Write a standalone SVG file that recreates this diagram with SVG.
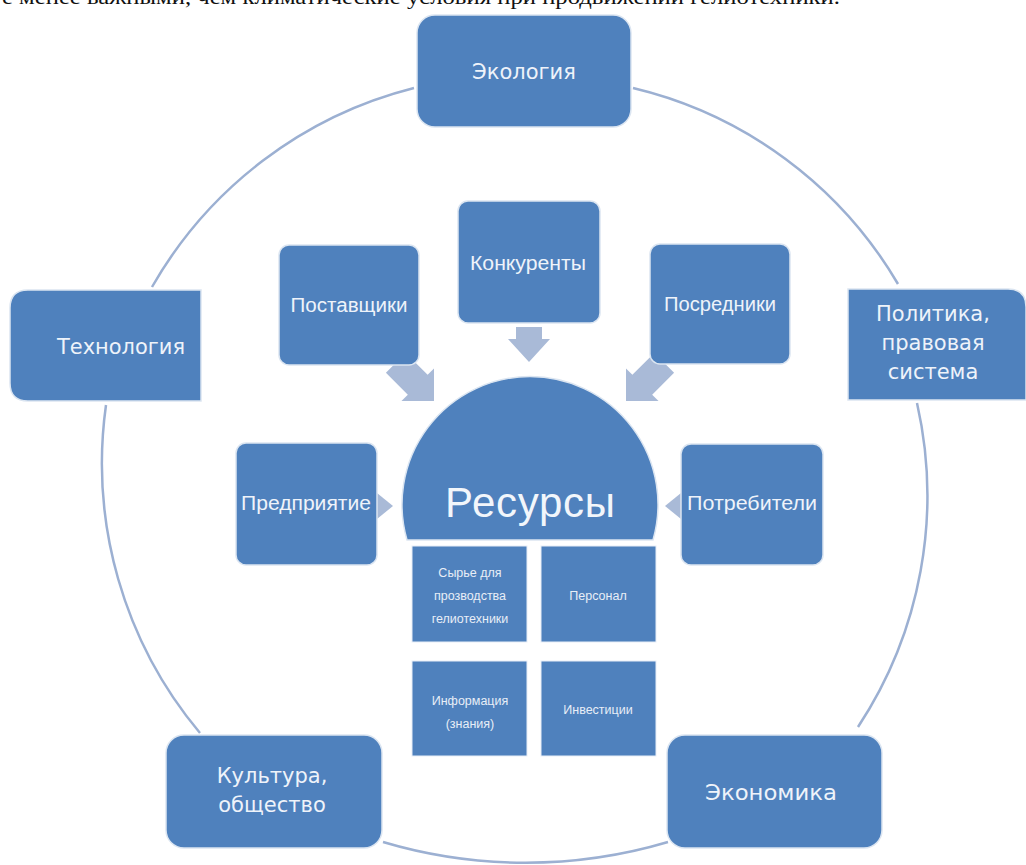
<svg xmlns="http://www.w3.org/2000/svg" width="1026" height="865" viewBox="0 0 1026 865">
<style>
.box{fill:#4f81bd;stroke:#dbe5f1;stroke-width:1.5}
.sub{fill:#4f81bd;stroke:#e8eef7;stroke-width:1}
.arc{fill:none;stroke:#9cb0d2;stroke-width:2.5}
.arr{fill:#a9bad7}
.ot{font-family:"DejaVu Sans",sans-serif;font-size:21px;fill:#eef3fa;text-anchor:middle}
.it{font-family:"Liberation Sans",Arial,sans-serif;font-size:20px;fill:#eef3fa;text-anchor:middle}
.st{font-family:"Liberation Sans",Arial,sans-serif;font-size:12.5px;fill:#e8eef7;text-anchor:middle}
</style>
<rect width="1026" height="865" fill="#ffffff"/>
<text x="2" y="4" font-family="Liberation Serif,serif" font-size="22" fill="#111" textLength="838" lengthAdjust="spacingAndGlyphs">е менее важными, чем климатические условия при продвижении гелиотехники.</text>
<g id="connectors">
<path class="arc" d="M152,287 A420,420 0 0 1 414,88"/>
<path class="arc" d="M633,88 A420,420 0 0 1 898,284"/>
<path class="arc" d="M917,403 A420,420 0 0 1 858,727"/>
<path class="arc" d="M668,842 A500,500 0 0 1 383,842"/>
<path class="arc" d="M200,733 A420,420 0 0 1 106,405"/>
<polygon class="arr" transform="translate(434,401) rotate(45)" points="-54,-14 -23,-14 -23,-23 0,0 -23,23 -23,14 -54,14"/>
<polygon class="arr" transform="translate(626,401) rotate(135)" points="-54,-14 -23,-14 -23,-23 0,0 -23,23 -23,14 -54,14"/>
<polygon class="arr" transform="translate(529,362) rotate(90)" points="-35,-13 -23,-13 -23,-21 0,0 -23,21 -23,13 -35,13"/>
<polygon class="arr" points="377,493 393,506 377,519"/>
<polygon class="arr" points="681,493 665,506 681,519"/>
</g>
<g id="ecology">
<rect class="box" x="417" y="15" width="214" height="112" rx="18"/>
<text class="ot" x="524" y="79">Экология</text>
</g>
<g id="technology">
<path class="box" d="M201,290 V401 H28 Q10,401 10,383 V308 Q10,290 28,290 Z"/>
<text class="ot" x="121" y="354" textLength="128" lengthAdjust="spacingAndGlyphs">Технология</text>
</g>
<g id="politics">
<path class="box" d="M848,289 H1008 Q1026,289 1026,307 V400 H848 Z"/>
<text class="ot" x="933" y="321">Политика,</text>
<text class="ot" x="933" y="350">правовая</text>
<text class="ot" x="933" y="379">система</text>
</g>
<g id="culture">
<rect class="box" x="166" y="735" width="216" height="113" rx="18"/>
<text class="ot" x="272" y="783">Культура,</text>
<text class="ot" x="272" y="812">общество</text>
</g>
<g id="economy">
<rect class="box" x="667" y="735" width="215" height="113" rx="18"/>
<text class="ot" x="771" y="800" textLength="132" lengthAdjust="spacingAndGlyphs">Экономика</text>
</g>
<g id="suppliers">
<rect class="box" x="279" y="245" width="140" height="120" rx="10"/>
<text class="it" x="349" y="312" textLength="117" lengthAdjust="spacingAndGlyphs">Поставщики</text>
</g>
<g id="competitors">
<rect class="box" x="458" y="201" width="142" height="122" rx="10"/>
<text class="it" x="528" y="270" textLength="116" lengthAdjust="spacingAndGlyphs">Конкуренты</text>
</g>
<g id="intermediaries">
<rect class="box" x="650" y="244" width="140" height="120" rx="10"/>
<text class="it" x="720" y="311" textLength="112" lengthAdjust="spacingAndGlyphs">Посредники</text>
</g>
<g id="enterprise">
<rect class="box" x="236" y="443" width="141" height="122" rx="10"/>
<text class="it" x="306" y="510" textLength="130" lengthAdjust="spacingAndGlyphs">Предприятие</text>
</g>
<g id="consumers">
<rect class="box" x="681" y="444" width="142" height="121" rx="10"/>
<text class="it" x="752" y="510" textLength="130" lengthAdjust="spacingAndGlyphs">Потребители</text>
</g>
<g id="resources">
<path class="box" d="M407,540 A128,128 0 1 1 653,540 Z"/>
<text x="530" y="517" font-family="Liberation Sans,Arial,sans-serif" font-size="42" fill="#f2f6fb" text-anchor="middle" textLength="170">Ресурсы</text>
</g>
<g id="raw">
<rect class="sub" x="412" y="546" width="115" height="96"/>
<text class="st" x="470" y="577">Сырье для</text>
<text class="st" x="470" y="600">прозводства</text>
<text class="st" x="470" y="623">гелиотехники</text>
</g>
<g id="staff">
<rect class="sub" x="541" y="546" width="115" height="96"/>
<text class="st" x="598" y="600">Персонал</text>
</g>
<g id="information">
<rect class="sub" x="412" y="661" width="115" height="95"/>
<text class="st" x="470" y="705">Информация</text>
<text class="st" x="470" y="728">(знания)</text>
</g>
<g id="investments">
<rect class="sub" x="541" y="661" width="115" height="95"/>
<text class="st" x="598" y="714">Инвестиции</text>
</g>
</svg>
